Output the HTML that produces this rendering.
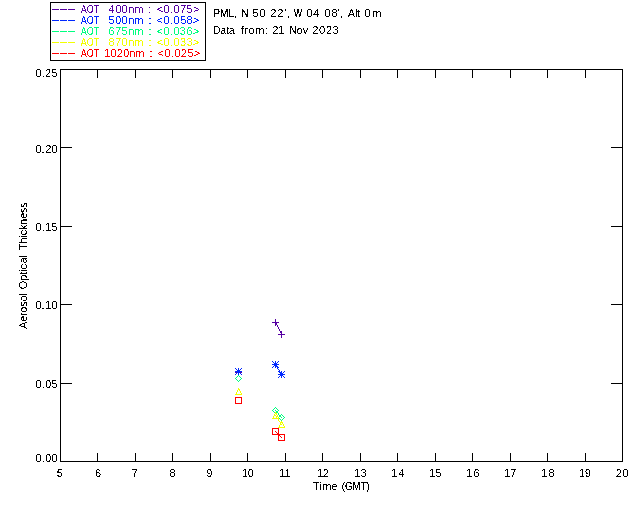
<!DOCTYPE html>
<html><head><meta charset="utf-8"><title>AOT plot - PML</title>
<style>
html,body{margin:0;padding:0;background:#fff;width:640px;height:512px;overflow:hidden}
svg{display:block}
text{font-family:"Liberation Sans", "DejaVu Sans", sans-serif;font-size:11px;white-space:pre;}
</style></head><body>
<svg width="640" height="512" viewBox="0 0 640 512">
<defs>
<filter id="t40" x="0" y="0" width="640" height="512" filterUnits="userSpaceOnUse" color-interpolation-filters="sRGB"><feComponentTransfer><feFuncA type="discrete" tableValues="0 0 0 0 0 0 0 0 1 1 1 1 1 1 1 1 1 1 1 1"/></feComponentTransfer></filter>
<filter id="t45" x="0" y="0" width="640" height="512" filterUnits="userSpaceOnUse" color-interpolation-filters="sRGB"><feComponentTransfer><feFuncA type="discrete" tableValues="0 0 0 0 0 0 0 0 0 1 1 1 1 1 1 1 1 1 1 1"/></feComponentTransfer></filter>
<filter id="t50" x="0" y="0" width="640" height="512" filterUnits="userSpaceOnUse" color-interpolation-filters="sRGB"><feComponentTransfer><feFuncA type="discrete" tableValues="0 0 0 0 0 0 0 0 0 0 1 1 1 1 1 1 1 1 1 1"/></feComponentTransfer></filter>

</defs>
<rect width="640" height="512" fill="#fff"/>
<g fill="#000" shape-rendering="crispEdges">
<rect x="60" y="69" width="563" height="1"/>
<rect x="60" y="461" width="563" height="1"/>
<rect x="60" y="69" width="1" height="393"/>
<rect x="622" y="69" width="1" height="393"/>
<rect x="97" y="453" width="1" height="8"/>
<rect x="97" y="70" width="1" height="8"/>
<rect x="135" y="453" width="1" height="8"/>
<rect x="135" y="70" width="1" height="8"/>
<rect x="172" y="453" width="1" height="8"/>
<rect x="172" y="70" width="1" height="8"/>
<rect x="210" y="453" width="1" height="8"/>
<rect x="210" y="70" width="1" height="8"/>
<rect x="247" y="453" width="1" height="8"/>
<rect x="247" y="70" width="1" height="8"/>
<rect x="285" y="453" width="1" height="8"/>
<rect x="285" y="70" width="1" height="8"/>
<rect x="322" y="453" width="1" height="8"/>
<rect x="322" y="70" width="1" height="8"/>
<rect x="360" y="453" width="1" height="8"/>
<rect x="360" y="70" width="1" height="8"/>
<rect x="397" y="453" width="1" height="8"/>
<rect x="397" y="70" width="1" height="8"/>
<rect x="435" y="453" width="1" height="8"/>
<rect x="435" y="70" width="1" height="8"/>
<rect x="472" y="453" width="1" height="8"/>
<rect x="472" y="70" width="1" height="8"/>
<rect x="510" y="453" width="1" height="8"/>
<rect x="510" y="70" width="1" height="8"/>
<rect x="547" y="453" width="1" height="8"/>
<rect x="547" y="70" width="1" height="8"/>
<rect x="585" y="453" width="1" height="8"/>
<rect x="585" y="70" width="1" height="8"/>
<rect x="61" y="383" width="11" height="1"/>
<rect x="611" y="383" width="11" height="1"/>
<rect x="61" y="304" width="11" height="1"/>
<rect x="611" y="304" width="11" height="1"/>
<rect x="61" y="226" width="11" height="1"/>
<rect x="611" y="226" width="11" height="1"/>
<rect x="61" y="147" width="11" height="1"/>
<rect x="611" y="147" width="11" height="1"/>
<rect x="50" y="2" width="156" height="1"/>
<rect x="50" y="60" width="156" height="1"/>
<rect x="50" y="2" width="1" height="59"/>
<rect x="205" y="2" width="1" height="59"/>
<rect x="52" y="9" width="7" height="1" fill="#5600a2"/>
<rect x="60" y="9" width="7" height="1" fill="#5600a2"/>
<rect x="68" y="9" width="7" height="1" fill="#5600a2"/>
<rect x="52" y="20" width="7" height="1" fill="#0028ff"/>
<rect x="60" y="20" width="7" height="1" fill="#0028ff"/>
<rect x="68" y="20" width="7" height="1" fill="#0028ff"/>
<rect x="52" y="31" width="7" height="1" fill="#00ff80"/>
<rect x="60" y="31" width="7" height="1" fill="#00ff80"/>
<rect x="68" y="31" width="7" height="1" fill="#00ff80"/>
<rect x="52" y="42" width="7" height="1" fill="#f2ff00"/>
<rect x="60" y="42" width="7" height="1" fill="#f2ff00"/>
<rect x="68" y="42" width="7" height="1" fill="#f2ff00"/>
<rect x="52" y="53" width="7" height="1" fill="#ff0000"/>
<rect x="60" y="53" width="7" height="1" fill="#ff0000"/>
<rect x="68" y="53" width="7" height="1" fill="#ff0000"/>
</g>
<g fill="#000">
<text y="13" fill="#5600a2" filter="url(#t50)"><tspan x="80.858" textLength="18.221" lengthAdjust="spacingAndGlyphs">AOT</tspan>  <tspan x="108.623 115.451 121.53 128.233 134.562">400nm</tspan> <tspan x="148.371">:</tspan> <tspan x="156.708 163.393 169.748 173.548 179.903 186.258 193.113">&lt;0.075&gt;</tspan></text>
<text y="24" fill="#0028ff" filter="url(#t50)"><tspan x="80.858" textLength="18.221" lengthAdjust="spacingAndGlyphs">AOT</tspan>  <tspan x="108.56 115.31 121.436 128.311 134.312">500nm</tspan> <tspan x="148.496">:</tspan> <tspan x="156.458 163.393 169.748 173.423 180.153 186.508 192.863">&lt;0.058&gt;</tspan></text>
<text y="35" fill="#00ff80" filter="url(#t50)"><tspan x="80.858" textLength="18.221" lengthAdjust="spacingAndGlyphs">AOT</tspan>  <tspan x="108.441 115.097 121.377 128.157 134.312">675nm</tspan> <tspan x="148.496">:</tspan> <tspan x="156.458 163.393 169.748 173.423 179.778 186.383 192.863">&lt;0.036&gt;</tspan></text>
<text y="46" fill="#f2ff00" filter="url(#t50)"><tspan x="80.858" textLength="18.221" lengthAdjust="spacingAndGlyphs">AOT</tspan>  <tspan x="108.522 114.907 121.417 128.177 134.312">870nm</tspan> <tspan x="148.496">:</tspan> <tspan x="156.708 163.393 169.748 173.423 179.903 186.758 192.863">&lt;0.033&gt;</tspan></text>
<text y="57" fill="#ff0000" filter="url(#t50)"><tspan x="80.858" textLength="18.221" lengthAdjust="spacingAndGlyphs">AOT</tspan> <tspan x="104.287 110.567 116.847 123.127 129.282 135.312">1020nm</tspan> <tspan x="149.496">:</tspan> <tspan x="157.458 164.393 170.748 174.423 180.778 187.508 193.863">&lt;0.025&gt;</tspan></text>
<text y="17" filter="url(#t40)"><tspan x="213.165" textLength="23.749" lengthAdjust="spacingAndGlyphs">PML,</tspan> <tspan x="241.098">N</tspan> <tspan x="252.56 259.437">50</tspan> <tspan x="270.322 277.232 284.267 286.932">22',</tspan> <tspan x="293.962" textLength="8.067" lengthAdjust="spacingAndGlyphs">W</tspan> <tspan x="306.445 313.33">04</tspan> <tspan x="324.57 331.376 337.557 339.807">08',</tspan> <tspan x="347.980" textLength="12.096" lengthAdjust="spacingAndGlyphs">Alt</tspan> <tspan x="364.57 372.312">0m</tspan></text>
<text y="34" filter="url(#t45)"><tspan x="213.027" textLength="21.848" lengthAdjust="spacingAndGlyphs">Data</tspan> <tspan x="240.969 244.318 248.456 255.159 265.198">from:</tspan> <tspan x="272.329" textLength="12.076" lengthAdjust="spacingAndGlyphs">21</tspan> <tspan x="289.128" textLength="18.909" lengthAdjust="spacingAndGlyphs">Nov</tspan> <tspan x="312.322 318.961 325.976 332.491">2023</tspan></text>
<text y="490" filter="url(#t40)"><tspan x="312.878 319.329 322.187 331.371">Time</tspan> <tspan x="341.644" textLength="28.212" lengthAdjust="spacingAndGlyphs">(GMT)</tspan></text>
<text y="462" filter="url(#t50)"><tspan x="35.57 41.618 45.139 51.437">0.00</tspan></text>
<text y="388" filter="url(#t50)"><tspan x="35.57 41.631 45.159 51.344">0.05</tspan></text>
<text y="309" filter="url(#t40)"><tspan x="35.57 41.618 45.139 51.437">0.10</tspan></text>
<text y="231" filter="url(#t50)"><tspan x="35.57 41.631 45.284 51.344">0.15</tspan></text>
<text y="153" filter="url(#t40)"><tspan x="35.57 41.618 45.139 51.437">0.20</tspan></text>
<text y="77" filter="url(#t50)"><tspan x="35.57 41.631 44.909 51.344">0.25</tspan></text>
<text y="477" filter="url(#t45)"><tspan x="56.81">5</tspan></text>
<text y="477" filter="url(#t50)"><tspan x="94.941">6</tspan></text>
<text y="477" filter="url(#t45)"><tspan x="131.686">7</tspan></text>
<text y="477" filter="url(#t40)"><tspan x="169.522">8</tspan></text>
<text y="477" filter="url(#t50)"><tspan x="206.359">9</tspan></text>
<text y="477" filter="url(#t45)"><tspan x="242.486" textLength="11.156" lengthAdjust="spacingAndGlyphs">10</tspan></text>
<text y="477" filter="url(#t45)"><tspan x="279.228" textLength="11.266" lengthAdjust="spacingAndGlyphs">11</tspan></text>
<text y="477" filter="url(#t45)"><tspan x="317.477" textLength="11.283" lengthAdjust="spacingAndGlyphs">12</tspan></text>
<text y="477" filter="url(#t45)"><tspan x="354.162 360.491">13</tspan></text>
<text y="477" filter="url(#t50)"><tspan x="391.162 398.455">14</tspan></text>
<text y="477" filter="url(#t50)"><tspan x="429.162 435.344">15</tspan></text>
<text y="477" filter="url(#t45)"><tspan x="466.162 473.616">16</tspan></text>
<text y="477" filter="url(#t50)"><tspan x="504.162 510.311">17</tspan></text>
<text y="477" filter="url(#t50)"><tspan x="541.162 548.485">18</tspan></text>
<text y="477" filter="url(#t45)"><tspan x="579.355" textLength="11.249" lengthAdjust="spacingAndGlyphs">19</tspan></text>
<text y="477" filter="url(#t50)"><tspan x="615.697 622.562">20</tspan></text>
<g filter="url(#t45)"><text y="0" transform="translate(27,329) rotate(-90)"><tspan x="0.229" textLength="35.725" lengthAdjust="spacingAndGlyphs">Aerosol</tspan> <tspan x="39.729 48.166 54.163 57.221 59.541 65.42 71.292">Optical</tspan> <tspan x="79.012" textLength="47.620" lengthAdjust="spacingAndGlyphs">Thickness</tspan></text></g>
</g>
<g shape-rendering="crispEdges">
<path fill="#5600a2" d="M235 372h1v1h-1zM236 372h1v1h-1zM237 372h1v1h-1zM238 369h1v1h-1zM238 370h1v1h-1zM238 371h1v1h-1zM238 372h1v1h-1zM238 373h1v1h-1zM238 374h1v1h-1zM238 375h1v1h-1zM239 372h1v1h-1zM240 372h1v1h-1zM241 372h1v1h-1zM272 322h1v1h-1zM273 322h1v1h-1zM274 322h1v1h-1zM275 319h1v1h-1zM275 320h1v1h-1zM275 321h1v1h-1zM275 322h1v1h-1zM275 323h1v1h-1zM275 324h1v1h-1zM275 325h1v1h-1zM276 322h1v1h-1zM276 323h1v1h-1zM276 324h1v1h-1zM277 322h1v1h-1zM277 325h1v1h-1zM277 326h1v1h-1zM278 322h1v1h-1zM278 327h1v1h-1zM278 328h1v1h-1zM278 334h1v1h-1zM279 329h1v1h-1zM279 330h1v1h-1zM279 334h1v1h-1zM280 331h1v1h-1zM280 332h1v1h-1zM280 334h1v1h-1zM281 331h1v1h-1zM281 332h1v1h-1zM281 333h1v1h-1zM281 334h1v1h-1zM281 335h1v1h-1zM281 336h1v1h-1zM281 337h1v1h-1zM282 334h1v1h-1zM283 334h1v1h-1zM284 334h1v1h-1z"/>
<path fill="#0028ff" d="M235 368h1v1h-1zM235 371h1v1h-1zM235 374h1v1h-1zM236 369h1v1h-1zM236 371h1v1h-1zM236 373h1v1h-1zM237 370h1v1h-1zM237 371h1v1h-1zM237 372h1v1h-1zM238 368h1v1h-1zM238 369h1v1h-1zM238 370h1v1h-1zM238 371h1v1h-1zM238 372h1v1h-1zM238 373h1v1h-1zM238 374h1v1h-1zM239 370h1v1h-1zM239 371h1v1h-1zM239 372h1v1h-1zM240 369h1v1h-1zM240 371h1v1h-1zM240 373h1v1h-1zM241 368h1v1h-1zM241 371h1v1h-1zM241 374h1v1h-1zM272 361h1v1h-1zM272 364h1v1h-1zM272 367h1v1h-1zM273 362h1v1h-1zM273 364h1v1h-1zM273 366h1v1h-1zM274 363h1v1h-1zM274 364h1v1h-1zM274 365h1v1h-1zM275 361h1v1h-1zM275 362h1v1h-1zM275 363h1v1h-1zM275 364h1v1h-1zM275 365h1v1h-1zM275 366h1v1h-1zM275 367h1v1h-1zM276 363h1v1h-1zM276 364h1v1h-1zM276 365h1v1h-1zM276 366h1v1h-1zM277 362h1v1h-1zM277 364h1v1h-1zM277 366h1v1h-1zM277 367h1v1h-1zM277 368h1v1h-1zM278 361h1v1h-1zM278 364h1v1h-1zM278 367h1v1h-1zM278 369h1v1h-1zM278 371h1v1h-1zM278 374h1v1h-1zM278 377h1v1h-1zM279 370h1v1h-1zM279 371h1v1h-1zM279 372h1v1h-1zM279 374h1v1h-1zM279 376h1v1h-1zM280 372h1v1h-1zM280 373h1v1h-1zM280 374h1v1h-1zM280 375h1v1h-1zM281 371h1v1h-1zM281 372h1v1h-1zM281 373h1v1h-1zM281 374h1v1h-1zM281 375h1v1h-1zM281 376h1v1h-1zM281 377h1v1h-1zM282 373h1v1h-1zM282 374h1v1h-1zM282 375h1v1h-1zM283 372h1v1h-1zM283 374h1v1h-1zM283 376h1v1h-1zM284 371h1v1h-1zM284 374h1v1h-1zM284 377h1v1h-1z"/>
<path fill="#00ff80" d="M235 378h1v1h-1zM236 377h1v1h-1zM236 379h1v1h-1zM237 376h1v1h-1zM237 380h1v1h-1zM238 375h1v1h-1zM238 381h1v1h-1zM239 376h1v1h-1zM239 380h1v1h-1zM240 377h1v1h-1zM240 379h1v1h-1zM241 378h1v1h-1zM272 410h1v1h-1zM273 409h1v1h-1zM273 411h1v1h-1zM274 408h1v1h-1zM274 412h1v1h-1zM275 407h1v1h-1zM275 410h1v1h-1zM275 413h1v1h-1zM276 408h1v1h-1zM276 411h1v1h-1zM276 412h1v1h-1zM277 409h1v1h-1zM277 411h1v1h-1zM277 412h1v1h-1zM278 410h1v1h-1zM278 413h1v1h-1zM278 414h1v1h-1zM278 417h1v1h-1zM279 415h1v1h-1zM279 416h1v1h-1zM279 418h1v1h-1zM280 415h1v1h-1zM280 416h1v1h-1zM280 419h1v1h-1zM281 414h1v1h-1zM281 417h1v1h-1zM281 420h1v1h-1zM282 415h1v1h-1zM282 419h1v1h-1zM283 416h1v1h-1zM283 418h1v1h-1zM284 417h1v1h-1z"/>
<path fill="#f2ff00" d="M235 394h1v1h-1zM236 392h1v1h-1zM236 393h1v1h-1zM236 394h1v1h-1zM237 390h1v1h-1zM237 391h1v1h-1zM237 394h1v1h-1zM238 388h1v1h-1zM238 389h1v1h-1zM238 394h1v1h-1zM239 389h1v1h-1zM239 390h1v1h-1zM239 394h1v1h-1zM240 391h1v1h-1zM240 392h1v1h-1zM240 394h1v1h-1zM241 393h1v1h-1zM241 394h1v1h-1zM272 418h1v1h-1zM273 416h1v1h-1zM273 417h1v1h-1zM273 418h1v1h-1zM274 414h1v1h-1zM274 415h1v1h-1zM274 418h1v1h-1zM275 412h1v1h-1zM275 413h1v1h-1zM275 415h1v1h-1zM275 418h1v1h-1zM276 413h1v1h-1zM276 414h1v1h-1zM276 416h1v1h-1zM276 417h1v1h-1zM276 418h1v1h-1zM277 415h1v1h-1zM277 416h1v1h-1zM277 418h1v1h-1zM278 417h1v1h-1zM278 418h1v1h-1zM278 419h1v1h-1zM278 420h1v1h-1zM278 427h1v1h-1zM279 421h1v1h-1zM279 425h1v1h-1zM279 426h1v1h-1zM279 427h1v1h-1zM280 422h1v1h-1zM280 423h1v1h-1zM280 424h1v1h-1zM280 427h1v1h-1zM281 421h1v1h-1zM281 422h1v1h-1zM281 424h1v1h-1zM281 427h1v1h-1zM282 422h1v1h-1zM282 423h1v1h-1zM282 427h1v1h-1zM283 424h1v1h-1zM283 425h1v1h-1zM283 427h1v1h-1zM284 426h1v1h-1zM284 427h1v1h-1z"/>
<path fill="#ff0000" d="M235 397h1v1h-1zM235 398h1v1h-1zM235 399h1v1h-1zM235 400h1v1h-1zM235 401h1v1h-1zM235 402h1v1h-1zM235 403h1v1h-1zM236 397h1v1h-1zM236 403h1v1h-1zM237 397h1v1h-1zM237 403h1v1h-1zM238 397h1v1h-1zM238 403h1v1h-1zM239 397h1v1h-1zM239 403h1v1h-1zM240 397h1v1h-1zM240 403h1v1h-1zM241 397h1v1h-1zM241 398h1v1h-1zM241 399h1v1h-1zM241 400h1v1h-1zM241 401h1v1h-1zM241 402h1v1h-1zM241 403h1v1h-1zM272 428h1v1h-1zM272 429h1v1h-1zM272 430h1v1h-1zM272 431h1v1h-1zM272 432h1v1h-1zM272 433h1v1h-1zM272 434h1v1h-1zM273 428h1v1h-1zM273 434h1v1h-1zM274 428h1v1h-1zM274 434h1v1h-1zM275 428h1v1h-1zM275 431h1v1h-1zM275 434h1v1h-1zM276 428h1v1h-1zM276 432h1v1h-1zM276 434h1v1h-1zM277 428h1v1h-1zM277 433h1v1h-1zM277 434h1v1h-1zM278 428h1v1h-1zM278 429h1v1h-1zM278 430h1v1h-1zM278 431h1v1h-1zM278 432h1v1h-1zM278 433h1v1h-1zM278 434h1v1h-1zM278 435h1v1h-1zM278 436h1v1h-1zM278 437h1v1h-1zM278 438h1v1h-1zM278 439h1v1h-1zM278 440h1v1h-1zM279 434h1v1h-1zM279 435h1v1h-1zM279 440h1v1h-1zM280 434h1v1h-1zM280 436h1v1h-1zM280 440h1v1h-1zM281 434h1v1h-1zM281 437h1v1h-1zM281 440h1v1h-1zM282 434h1v1h-1zM282 440h1v1h-1zM283 434h1v1h-1zM283 440h1v1h-1zM284 434h1v1h-1zM284 435h1v1h-1zM284 436h1v1h-1zM284 437h1v1h-1zM284 438h1v1h-1zM284 439h1v1h-1zM284 440h1v1h-1z"/>
</g>
</svg>
</body></html>
